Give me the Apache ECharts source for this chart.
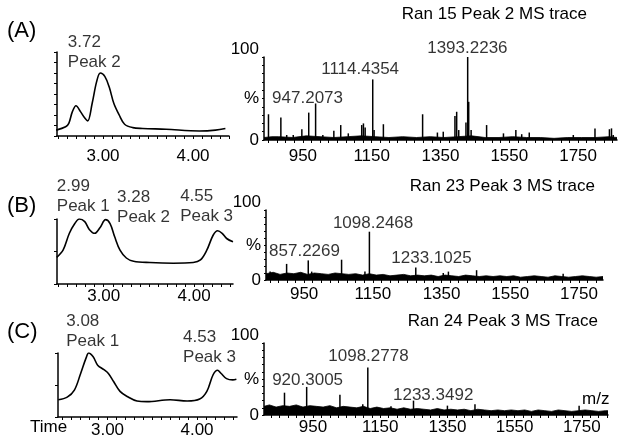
<!DOCTYPE html>
<html><head><meta charset="utf-8">
<script src="https://cdn.jsdelivr.net/npm/echarts@6/dist/echarts.min.js"></script>
<style>html,body{margin:0;padding:0;background:#fff}#c{width:624px;height:445px}</style>
</head><body><div id="c"></div>
<script>
// ---------- DATA ----------
const chromTickLabels = [3, 4];
const msTickLabels = [950, 1150, 1350, 1550, 1750];

// chromatograms: [time, relative intensity %]
const chromA = [[2.48,7],[2.585,11],[2.62,15],[2.66,29],[2.70,36],[2.75,29],[2.80,21],[2.83,18],[2.88,39],[2.93,65],[2.97,75],[3.02,71],[3.07,58],[3.12,39],[3.18,25],[3.24,14],[3.33,10],[3.44,9],[3.70,8],[4.07,6],[4.25,7],[4.36,9]];
const chromB = [[2.48,41],[2.55,52],[2.62,78],[2.68,93],[2.73,100],[2.79,96],[2.84,84],[2.90,78],[2.96,87],[3.02,99],[3.07,93],[3.12,73],[3.18,52],[3.25,40],[3.33,35],[3.51,33],[3.77,32],[3.99,33],[4.07,37],[4.14,52],[4.21,75],[4.26,82],[4.31,78],[4.36,70],[4.43,65]];
const chromC = [[2.45,27],[2.55,31],[2.63,42],[2.70,68],[2.76,92],[2.79,100],[2.84,94],[2.89,81],[2.96,74],[3.01,68],[3.07,55],[3.14,40],[3.22,32],[3.33,25],[3.44,24],[3.70,27],[3.89,25],[4.03,28],[4.11,40],[4.18,66],[4.23,73],[4.27,68],[4.33,60],[4.40,58],[4.44,59]];

// chromatogram peak annotations
const chromLabelsA = [{t:2.97, v:75, text:'3.72\nPeak 2'}];
const chromLabelsB = [{t:2.73, v:100, text:'2.99\nPeak 1'},{t:3.02, v:99, text:'3.28\nPeak 2'},{t:4.26, v:82, text:'4.55\nPeak 3'}];
const chromLabelsC = [{t:2.79, v:100, text:'3.08\nPeak 1'},{t:4.23, v:73, text:'4.53\nPeak 3'}];

// MS spectra peaks: [m/z axis position, relative abundance %]
const msPeaksA = [[850,31],[886,27],[903,6],[922,6],[947,13],[967,33],[987,44],[1008,6],[1040,11],[1060,18],[1082,8],[1121,18],[1126,20],[1131,15],[1153,73],[1157,12],[1184,19],[1298,31],[1341,9],[1358,10],[1392,29],[1397,34],[1403,12],[1424,21],[1429,100],[1432,46],[1439,12],[1484,18],[1533,8],[1569,12],[1586,7],[1608,9],[1736,6],[1799,14],[1841,13],[1847,14],[1852,6]];
const msPeaksB = [[851,12],[899,23],[962,28],[972,12],[1059,29],[1127,12],[1140,69],[1275,18],[1355,10],[1370,12],[1452,14],[1704,9]];
const msPeaksC = [[865,31],[931,39],[1030,28],[1098,15],[1113,66],[1182,12],[1249,20],[1350,13],[1432,15],[1742,13]];

// baseline noise envelope: [m/z, %]
const msNoiseA = [[837,3],[860,4],[880,4],[920,3],[960,5],[1000,4],[1040,3],[1080,4],[1120,5],[1160,4],[1200,3],[1240,4],[1280,3],[1320,4],[1360,3],[1400,4],[1440,5],[1480,3],[1520,3],[1560,4],[1600,3],[1640,3],[1680,2],[1720,3],[1760,3],[1800,3],[1840,4],[1863,3]];
const msNoiseB = [[839,9],[860,11],[880,8],[900,10],[920,9],[940,11],[960,8],[980,10],[1000,9],[1020,8],[1040,10],[1060,9],[1080,8],[1100,9],[1120,7],[1140,9],[1160,7],[1180,8],[1200,6],[1220,7],[1240,8],[1260,6],[1280,7],[1300,6],[1320,7],[1340,5],[1360,7],[1380,6],[1400,5],[1420,7],[1440,6],[1460,5],[1480,6],[1500,5],[1520,6],[1540,5],[1560,6],[1580,4],[1600,5],[1620,6],[1640,5],[1660,4],[1680,6],[1700,5],[1720,4],[1740,5],[1760,6],[1780,5],[1800,4],[1820,5]];
const msNoiseC = [[804,12],[820,14],[840,11],[860,13],[880,12],[900,14],[920,11],[940,13],[960,12],[980,11],[1000,13],[1020,10],[1040,12],[1060,11],[1080,10],[1100,12],[1120,9],[1140,11],[1160,9],[1180,10],[1200,8],[1220,10],[1240,8],[1260,9],[1280,8],[1300,7],[1320,9],[1340,7],[1360,8],[1380,7],[1400,8],[1420,6],[1440,8],[1460,7],[1480,6],[1500,7],[1520,6],[1540,7],[1560,6],[1580,7],[1600,5],[1620,7],[1640,6],[1660,5],[1680,7],[1700,6],[1720,5],[1740,6],[1760,7],[1780,6],[1800,5],[1820,6],[1828,6]];

// MS peak annotations
const msLabelsA = [{mz:1429, v:100, text:'1393.2236'},{mz:1153, v:73, text:'1114.4354'},{mz:987, v:44, text:'947.2073'}];
const msLabelsB = [{mz:1140, v:69, text:'1098.2468'},{mz:1059, v:29, text:'857.2269'},{mz:1275, v:18, text:'1233.1025'}];
const msLabelsC = [{mz:1113, v:66, text:'1098.2778'},{mz:931, v:39, text:'920.3005'},{mz:1249, v:20, text:'1233.3492'}];

const panelLetters = ['(A)', '(B)', '(C)'];
const msTitles = ['Ran 15 Peak 2 MS trace', 'Ran 23 Peak 3 MS trace', 'Ran 24 Peak 3 MS Trace'];

// ---------- LAYOUT / STYLE ----------
const FONT = '"Liberation Sans", Arial, sans-serif';
const INK = '#000';
const labelOffsets = {
  chromA: [[-32,-40]],
  chromB: [[-22,-42],[12,-32],[-37,-44]],
  chromC: [[-22,-41],[-34,-42]],
  msA: [[-40,-18],[-51,-20],[-43,-15]],
  msB: [[-36,-18],[-72,-18],[-24,-19]],
  msC: [[-39,-21],[-34,-16],[-20,-15]]
};

const grids = [
  {left:57, top:52, width:172, height:84},
  {left:57, top:219, width:176, height:65},
  {left:58, top:353, width:179, height:64},
  {left:264, top:57, width:353, height:83},
  {left:266, top:210, width:337, height:70},
  {left:264, top:343, width:344, height:72}
];
const xRanges = [[2.489,4.40],[2.483,4.43],[2.447,4.447],[837,1863],[839,1820],[804,1828]];
const xLabelMargins = [12, 4, 5, 8, 6, 4];

function range(a, b, s) { const r = []; for (let v = a; v <= b + 1e-9; v += s) r.push(+v.toFixed(4)); return r; }

const axisLineStyle = {show:true, lineStyle:{color:INK, width:1.5}};
const textBase = {color:INK, fontFamily:FONT, fontSize:17};

const xAxes = grids.map((g, i) => {
  const isMS = i >= 3;
  const [mn, mx] = xRanges[i];
  return {
    type:'value', gridIndex:i, min:mn, max:mx,
    axisLine:axisLineStyle, splitLine:{show:false},
    axisTick:{show:true, inside:false, length:3, lineStyle:{color:INK, width:1},
      customValues: isMS ? range(Math.ceil(mn/25)*25, mx, 25) : range(Math.ceil(mn*10)/10, mx, 0.1)},
    axisLabel:{show:true, ...textBase, margin:xLabelMargins[i],
      customValues: isMS ? msTickLabels : chromTickLabels,
      formatter: v => isMS ? String(v) : v.toFixed(2)}
  };
});

const yAxes = grids.map((g, i) => {
  const isMS = i >= 3;
  const ticks = i === 0 ? range(0, 100, 12.5) : (isMS ? range(0, 100, 10) : [0, 50, 100]);
  return {
    type:'value', gridIndex:i, min:0, max:100,
    axisLine:axisLineStyle, splitLine:{show:false},
    axisTick:{show:true, inside:false, length:isMS ? 2 : 3, lineStyle:{color:INK, width:1}, customValues:ticks},
    axisLabel: isMS ? {show:true, ...textBase, margin:5, customValues:[0,50,100],
      formatter: v => v === 100 ? '{t|100}' : (v === 50 ? '%' : '0'),
      rich:{t:{...textBase, padding:[0,0,16,0]}}} : {show:false}
  };
});

const series = [];
[chromA, chromB, chromC].forEach((d, i) => {
  series.push({type:'line', xAxisIndex:i, yAxisIndex:i, data:d, smooth:0.35, showSymbol:false,
    lineStyle:{color:INK, width:1.6}, silent:true, animation:false});
});
[msNoiseA, msNoiseB, msNoiseC].forEach((d, i) => {
  series.push({type:'line', xAxisIndex:i+3, yAxisIndex:i+3, data:d, showSymbol:false,
    lineStyle:{color:INK, width:0.8}, areaStyle:{color:INK, opacity:1}, silent:true, animation:false, z:2});
});
[msPeaksA, msPeaksB, msPeaksC].forEach((d, i) => {
  series.push({type:'bar', xAxisIndex:i+3, yAxisIndex:i+3, data:d, barWidth:1.5,
    itemStyle:{color:INK}, silent:true, animation:false, z:3});
});

function labelSeries(list, offs, axisIdx, xKey) {
  return {type:'scatter', xAxisIndex:axisIdx, yAxisIndex:axisIdx, symbolSize:1,
    itemStyle:{color:'rgba(0,0,0,0)'}, silent:true, animation:false, z:5,
    label:{show:true, ...textBase, align:'left', verticalAlign:'top', lineHeight:20},
    data: list.map((p, k) => ({value:[p[xKey], p.v], label:{formatter:p.text, position:offs[k]}}))};
}
series.push(labelSeries(chromLabelsA, labelOffsets.chromA, 0, 't'));
series.push(labelSeries(chromLabelsB, labelOffsets.chromB, 1, 't'));
series.push(labelSeries(chromLabelsC, labelOffsets.chromC, 2, 't'));
series.push(labelSeries(msLabelsA, labelOffsets.msA, 3, 'mz'));
series.push(labelSeries(msLabelsB, labelOffsets.msB, 4, 'mz'));
series.push(labelSeries(msLabelsC, labelOffsets.msC, 5, 'mz'));

const letterTops = [20, 195, 321];
const titleRights = [37, 29, 26];
const titleTops = [6, 178, 313];
const graphic = [];
panelLetters.forEach((t, i) => graphic.push({type:'text', left:7, top:letterTops[i],
  style:{text:t, fill:INK, font:'22px ' + FONT}}));
msTitles.forEach((t, i) => graphic.push({type:'text', right:titleRights[i], top:titleTops[i],
  style:{text:t, fill:INK, font:'17px ' + FONT}}));
graphic.push({type:'text', left:582, top:391, style:{text:'m/z', fill:INK, font:'17px ' + FONT}});
graphic.push({type:'text', left:30, top:419, style:{text:'Time', fill:INK, font:'17px ' + FONT}});

const chart = echarts.init(document.getElementById('c'), null, {renderer:'canvas'});
chart.setOption({
  backgroundColor:'#fff', animation:false,
  grid: grids.map(g => ({...g, containLabel:false, outerBoundsMode:'none'})),
  xAxis:xAxes, yAxis:yAxes, series, graphic
});
</script></body></html>
